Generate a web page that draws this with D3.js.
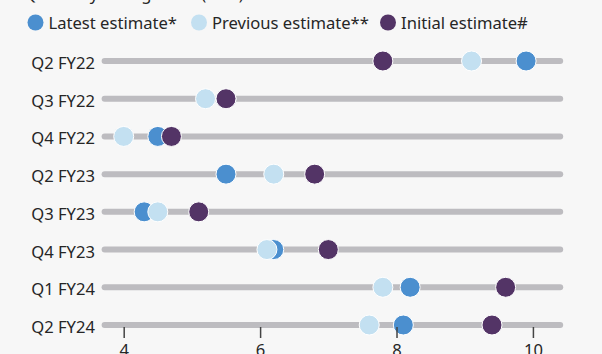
<!DOCTYPE html>
<html>
<head>
<meta charset="utf-8">
<script src="https://cdn.jsdelivr.net/npm/d3@7"></script>
<style>
  html, body { margin: 0; padding: 0; background: #f7f7f7; }
  svg { display: block; }
  text { font-family: "Noto Sans", "Open Sans", sans-serif; fill: #262626; }
</style>
</head>
<body>
<svg id="chart" width="602" height="354"></svg>
<script>
// Quarterly GDP growth estimates, per quarter
const quarters = ["Q2 FY22", "Q3 FY22", "Q4 FY22", "Q2 FY23", "Q3 FY23", "Q4 FY23", "Q1 FY24", "Q2 FY24"];
const latest   = [9.9, 5.5, 4.5, 5.5, 4.3, 6.2, 8.2, 8.1];
const previous = [9.1, 5.2, 4.0, 6.2, 4.5, 6.1, 7.8, 7.6];
const initial  = [7.8, 5.5, 4.7, 6.8, 5.1, 7.0, 9.6, 9.4];
const xTicks   = [4, 6, 8, 10];

const seriesNames  = ["Latest estimate*", "Previous estimate**", "Initial estimate#"];
const seriesColors = ["#4b8fcf", "#c3e0f1", "#533466"];
const seriesValues = [latest, previous, initial];

const FONT = "16.6px";
const svg = d3.select("#chart");

const x = d3.scaleLinear().domain([3.72, 10.4]).range([104.6, 560.2]);
const y = d3.scalePoint().domain(quarters).range([61, 325]);

// Title (sits mostly above the visible area)
svg.append("text")
  .attr("x", 24).attr("y", 0)
  .style("font-size", FONT)
  .text("Quarterly GDP growth (in %)");

// Legend
const legendX = [35.5, 199, 388];
const legend = svg.append("g");
seriesNames.forEach((name, i) => {
  legend.append("circle")
    .attr("cx", legendX[i]).attr("cy", 22.5).attr("r", 8)
    .attr("fill", seriesColors[i]);
  legend.append("text")
    .attr("x", legendX[i] + 13).attr("y", 28.5)
    .style("font-size", FONT)
    .text(name);
});

// Row tracks
svg.append("g").selectAll("line")
  .data(quarters)
  .join("line")
  .attr("x1", x(3.72)).attr("x2", x(10.4))
  .attr("y1", d => y(d)).attr("y2", d => y(d))
  .attr("stroke", "#bdbcc0")
  .attr("stroke-width", 6)
  .attr("stroke-linecap", "round");

// Row labels
svg.append("g").selectAll("text")
  .data(quarters)
  .join("text")
  .attr("x", 95).attr("y", d => y(d) + 8)
  .attr("text-anchor", "end")
  .style("font-size", FONT)
  .text(d => d);

// Dots: latest drawn first, initial on top
seriesValues.forEach((vals, i) => {
  svg.append("g").selectAll("circle")
    .data(vals.map((v, j) => ({ v, q: quarters[j] })))
    .join("circle")
    .attr("cx", d => x(d.v))
    .attr("cy", d => y(d.q))
    .attr("r", 10)
    .attr("fill", seriesColors[i])
    .attr("stroke", "#ffffff")
    .attr("stroke-width", 1);
});

// X axis
const axis = svg.append("g").attr("transform", "translate(0,327)")
  .call(d3.axisBottom(x).tickValues(xTicks).tickSize(11).tickPadding(6).tickFormat(d3.format("d")));
axis.select(".domain").remove();
axis.selectAll(".tick line").attr("stroke", "#444").attr("stroke-width", 1.5);
axis.selectAll(".tick text")
  .attr("dy", null)
  .attr("y", 29)
  .style("font-family", "'Noto Sans', 'Open Sans', sans-serif")
  .style("font-size", FONT)
  .attr("fill", "#262626");
</script>
</body>
</html>
